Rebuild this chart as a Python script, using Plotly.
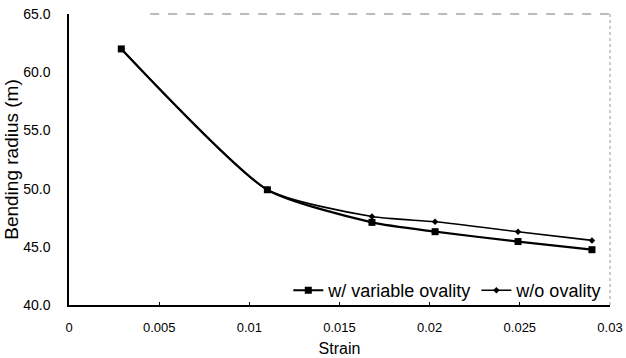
import plotly.graph_objects as go

strain = [0.0029, 0.0110, 0.0168, 0.0203, 0.0249, 0.0290]
r_variable = [62.0, 49.9, 47.1, 46.3, 45.45, 44.75]
r_without = [62.0, 49.9, 47.6, 47.15, 46.3, 45.55]

x_ticks = [0, 0.005, 0.01, 0.015, 0.02, 0.025, 0.03]
x_labels = ["0", "0.005", "0.01", "0.015", "0.02", "0.025", "0.03"]
y_ticks = [40, 45, 50, 55, 60, 65]
y_labels = ["40.0", "45.0", "50.0", "55.0", "60.0", "65.0"]

fig = go.Figure()
fig.add_trace(go.Scatter(
    x=strain, y=r_variable, name="w/ variable ovality", mode="lines+markers",
    line=dict(color="black", width=2.2, shape="spline", smoothing=0.6),
    marker=dict(symbol="square", size=7, color="black"),
))
fig.add_trace(go.Scatter(
    x=strain, y=r_without, name="w/o ovality", mode="lines+markers",
    line=dict(color="black", width=1.6, shape="spline", smoothing=0.6),
    marker=dict(symbol="diamond", size=5, color="black"),
))

# faint scan-like frame on top and right
fig.add_shape(type="line", xref="paper", yref="paper", x0=0.15, x1=1, y0=1, y1=1,
              line=dict(color="#777", width=1, dash="dash"))
fig.add_shape(type="line", xref="paper", yref="paper", x0=1, x1=1, y0=0, y1=1,
              line=dict(color="#999", width=1, dash="dot"))

fig.update_layout(
    width=626, height=358,
    margin=dict(l=69, r=16, t=14, b=53),
    paper_bgcolor="white", plot_bgcolor="white",
    font=dict(family="Liberation Sans, Arial, sans-serif", color="black", size=13),
    showlegend=True,
    legend=dict(orientation="h", x=0.995, y=-0.014, xanchor="right", yanchor="bottom",
                font=dict(size=18), bgcolor="rgba(255,255,255,0)",
                itemwidth=30, tracegroupgap=0),
    xaxis=dict(range=[0, 0.03], tickvals=x_ticks, ticktext=x_labels, automargin=False,
               showgrid=False, zeroline=False, showline=True, linecolor="black", linewidth=1.5,
               ticks="inside", ticklen=3, tickcolor="black", ticklabelstandoff=10,
               title=dict(text="Strain", font=dict(size=16), standoff=8),
               tickfont=dict(size=13)),
    yaxis=dict(range=[40, 65], tickvals=y_ticks, ticktext=y_labels, automargin=False,
               showgrid=False, zeroline=False, showline=True, linecolor="black", linewidth=1.5,
               ticks="", ticklabelstandoff=14,
               title=dict(text="Bending radius (m)", font=dict(size=19), standoff=0),
               tickfont=dict(size=14)),
)

fig.write_html("out.html")
